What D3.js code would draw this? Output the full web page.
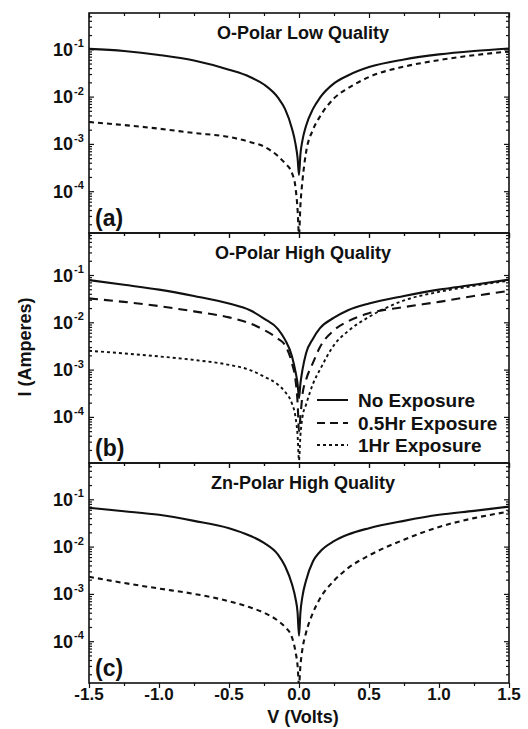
<!DOCTYPE html>
<html>
<head>
<meta charset="utf-8">
<script src="https://cdn.jsdelivr.net/npm/d3@7/dist/d3.min.js"></script>
<style>
  html, body { margin: 0; padding: 0; background: #fff; }
  svg { display: block; }
  text { font-family: "Liberation Sans", Arial, Helvetica, sans-serif; font-weight: bold; fill: #111; }
</style>
</head>
<body>
<svg id="chart" width="528" height="729"></svg>
<script>
// ---------------- DATA ----------------
const voltages = [-1.5, -1.25, -1.0, -0.75, -0.5, -0.35, -0.25, -0.15, -0.1, -0.05, -0.025, -0.01, 0,
                  0.01, 0.025, 0.05, 0.1, 0.15, 0.25, 0.35, 0.5, 0.75, 1.0, 1.25, 1.5];

// (a) O-Polar Low Quality
const aNoExposure = [0.102, 0.092, 0.076, 0.058, 0.037, 0.026, 0.018, 0.0095, 0.0055, 0.0021, 0.0010, 0.0005, 0.00022,
                     0.0006, 0.0012, 0.0024, 0.0055, 0.0095, 0.019, 0.028, 0.042, 0.061, 0.078, 0.092, 0.104];
const a1HrExposure = [0.0029, 0.0025, 0.0021, 0.0017, 0.0014, 0.0011, 0.00088, 0.00055, 0.00039, 0.00024, 0.00012, 0.00004, 0.000012,
                      0.00005, 0.00017, 0.00065, 0.002, 0.0038, 0.0092, 0.015, 0.026, 0.043, 0.059, 0.075, 0.09];

// (b) O-Polar High Quality
const bNoExposure = [0.078, 0.062, 0.049, 0.036, 0.025, 0.018, 0.012, 0.0072, 0.0043, 0.0019, 0.0009, 0.0005, 0.00025,
                     0.0005, 0.001, 0.0022, 0.0045, 0.0075, 0.0125, 0.018, 0.025, 0.036, 0.049, 0.062, 0.08];
const b05HrExposure = [0.032, 0.027, 0.022, 0.017, 0.0127, 0.0095, 0.0069, 0.0045, 0.0033, 0.00135, 0.0006, 0.0002, 0.00005,
                       0.0001, 0.0003, 0.0006, 0.0014, 0.003, 0.0068, 0.0105, 0.0155, 0.021, 0.027, 0.036, 0.046];
const b1HrExposure = [0.0025, 0.0022, 0.0019, 0.0016, 0.00126, 0.00098, 0.00071, 0.00048, 0.00034, 0.00019, 0.0001, 0.00004, 0.000012,
                      0.00004, 0.0001, 0.00018, 0.0005, 0.001, 0.0033, 0.0065, 0.013, 0.029, 0.044, 0.059, 0.076];

// (c) Zn-Polar High Quality
const cNoExposure = [0.066, 0.056, 0.047, 0.035, 0.0245, 0.017, 0.012, 0.0068, 0.0039, 0.0016, 0.0008, 0.0004, 0.00013,
                     0.0004, 0.0009, 0.0019, 0.0049, 0.0078, 0.013, 0.018, 0.0245, 0.035, 0.047, 0.057, 0.07];
const c1HrExposure = [0.0023, 0.0017, 0.0013, 0.001, 0.0007, 0.00052, 0.0004, 0.00027, 0.0002, 0.00012, 0.00006, 0.00003, 0.000012,
                      0.00003, 0.00007, 0.00015, 0.0004, 0.0008, 0.0019, 0.0035, 0.0065, 0.014, 0.026, 0.04, 0.055];

const panelTitles = ["O-Polar Low Quality", "O-Polar High Quality", "Zn-Polar High Quality"];
const panelLetters = ["(a)", "(b)", "(c)"];
const legendLabels = ["No Exposure", "0.5Hr Exposure", "1Hr Exposure"];
const xTickValues = [-1.5, -1.0, -0.5, 0.0, 0.5, 1.0, 1.5];
const xTickLabels = ["-1.5", "-1.0", "-0.5", "0.0", "0.5", "1.0", "1.5"];
const xMinorTicks = [-1.25, -0.75, -0.25, 0.25, 0.75, 1.25];
const yTickValues = [1e-1, 1e-2, 1e-3, 1e-4];
const yTickExponents = ["-1", "-2", "-3", "-4"];
const xAxisTitle = "V (Volts)";
const yAxisTitle = "I (Amperes)";

// ---------------- LAYOUT ----------------
const svg = d3.select("#chart");
const left = 89, right = 509;
const decadePx = 47.3;
const panels = [
  { top: 13,  bottom: 233, yDecade1: 49.3,  series: [aNoExposure, null, a1HrExposure], dot: "5,4" },
  { top: 233, bottom: 463, yDecade1: 275,   series: [bNoExposure, b05HrExposure, b1HrExposure], dot: "3,3" },
  { top: 463, bottom: 683, yDecade1: 499.3, series: [cNoExposure, null, c1HrExposure], dot: "5,4" }
];

const x = d3.scaleLinear().domain([-1.5, 1.5]).range([left, right]);

const styles = [
  { dash: null, width: 2.1 },
  { dash: "9,6", width: 2.1 },
  { dash: "5,4", width: 2.1 }
];

panels.forEach((p, pi) => {
  const topLog = -1 + (p.yDecade1 - p.top) / decadePx;
  const botLog = -1 - (p.bottom - p.yDecade1) / decadePx;
  const y = d3.scaleLog().domain([Math.pow(10, botLog), Math.pow(10, topLog)]).range([p.bottom, p.top]);
  const g = svg.append("g");

  const clipId = "clip" + pi;
  svg.append("clipPath").attr("id", clipId)
    .append("rect").attr("x", left).attr("y", p.top).attr("width", right - left).attr("height", p.bottom - p.top);

  // series lines
  const line = d3.line().x((d, i) => x(voltages[i])).y(d => y(d)).curve(d3.curveMonotoneX);
  p.series.forEach((s, si) => {
    if (!s) return;
    const st = styles[si];
    g.append("path")
      .attr("clip-path", `url(#${clipId})`)
      .attr("d", line(s))
      .attr("fill", "none")
      .attr("stroke", "#111")
      .attr("stroke-width", si === 2 && pi === 1 ? 1.9 : st.width)
      .attr("stroke-dasharray", si === 2 ? p.dot : st.dash);
  });

  // frame
  g.append("rect").attr("x", left).attr("y", p.top).attr("width", right - left).attr("height", p.bottom - p.top)
    .attr("fill", "none").attr("stroke", "#111").attr("stroke-width", 1.6);

  // y axes (inward ticks, both sides)
  const [d0, d1] = y.domain();
  const minor = [];
  for (let e = -6; e <= 0; e++) {
    for (let m = 2; m <= 9; m++) {
      const v = m * Math.pow(10, e);
      if (v > d0 && v < d1) minor.push(v);
    }
  }
  const yL = d3.axisLeft(y).tickValues(yTickValues).tickSize(-5).tickFormat("");
  const yR = d3.axisRight(y).tickValues(yTickValues).tickSize(-5).tickFormat("");
  const yLm = d3.axisLeft(y).tickValues(minor).tickSize(-3).tickFormat("");
  const yRm = d3.axisRight(y).tickValues(minor).tickSize(-3).tickFormat("");
  [[yL, left], [yLm, left], [yR, right], [yRm, right]].forEach(([ax, tx]) => {
    const a = g.append("g").attr("transform", `translate(${tx},0)`).call(ax);
    a.select(".domain").remove();
    a.selectAll("line").attr("stroke", "#111").attr("stroke-width", 1.2);
  });

  // x ticks top & bottom pointing downward
  [p.top, p.bottom].forEach(ty => {
    const a1 = g.append("g").attr("transform", `translate(0,${ty})`)
      .call(d3.axisBottom(x).tickValues(xTickValues).tickSize(5).tickFormat(""));
    const a2 = g.append("g").attr("transform", `translate(0,${ty})`)
      .call(d3.axisBottom(x).tickValues(xMinorTicks).tickSize(3).tickFormat(""));
    [a1, a2].forEach(a => {
      a.select(".domain").remove();
      a.selectAll("line").attr("stroke", "#111").attr("stroke-width", 1.2);
    });
  });

  // y tick labels with superscripts
  yTickValues.forEach((v, i) => {
    g.append("text")
      .attr("x", 73).attr("y", y(v) + 6.5)
      .attr("text-anchor", "end")
      .style("font-size", "18px")
      .text("10");
    g.append("text")
      .attr("x", 74).attr("y", y(v) - 2)
      .attr("text-anchor", "start")
      .style("font-size", "11px")
      .text(yTickExponents[i]);
  });

  // title
  g.append("text").attr("x", 303).attr("y", p.top + 26)
    .attr("text-anchor", "middle").style("font-size", "18px").text(panelTitles[pi]);

  // panel letter
  g.append("text").attr("x", 95).attr("y", p.bottom - 7)
    .style("font-size", "23px").text(panelLetters[pi]);

  // legend in panel b
  if (pi === 1) {
    const rows = [400, 423, 445];
    legendLabels.forEach((lab, li) => {
      g.append("line").attr("x1", 317).attr("x2", 348).attr("y1", rows[li]).attr("y2", rows[li])
        .attr("stroke", "#111").attr("stroke-width", 2)
        .attr("stroke-dasharray", li === 0 ? null : (li === 1 ? "8,5" : "3,3"));
      g.append("text").attr("x", 358).attr("y", rows[li] + 6.5)
        .style("font-size", "19px").text(lab);
    });
  }
});

// x tick labels
const lastP = panels[2];
xTickValues.forEach((v, i) => {
  svg.append("text").attr("x", x(v)).attr("y", lastP.bottom + 17)
    .attr("text-anchor", "middle").style("font-size", "17px").text(xTickLabels[i]);
});

// axis titles
svg.append("text").attr("x", 303).attr("y", 723)
  .attr("text-anchor", "middle").style("font-size", "18px").text(xAxisTitle);
svg.append("text").attr("transform", "translate(31,347) rotate(-90)")
  .attr("text-anchor", "middle").style("font-size", "18px").text(yAxisTitle);
</script>
</body>
</html>
